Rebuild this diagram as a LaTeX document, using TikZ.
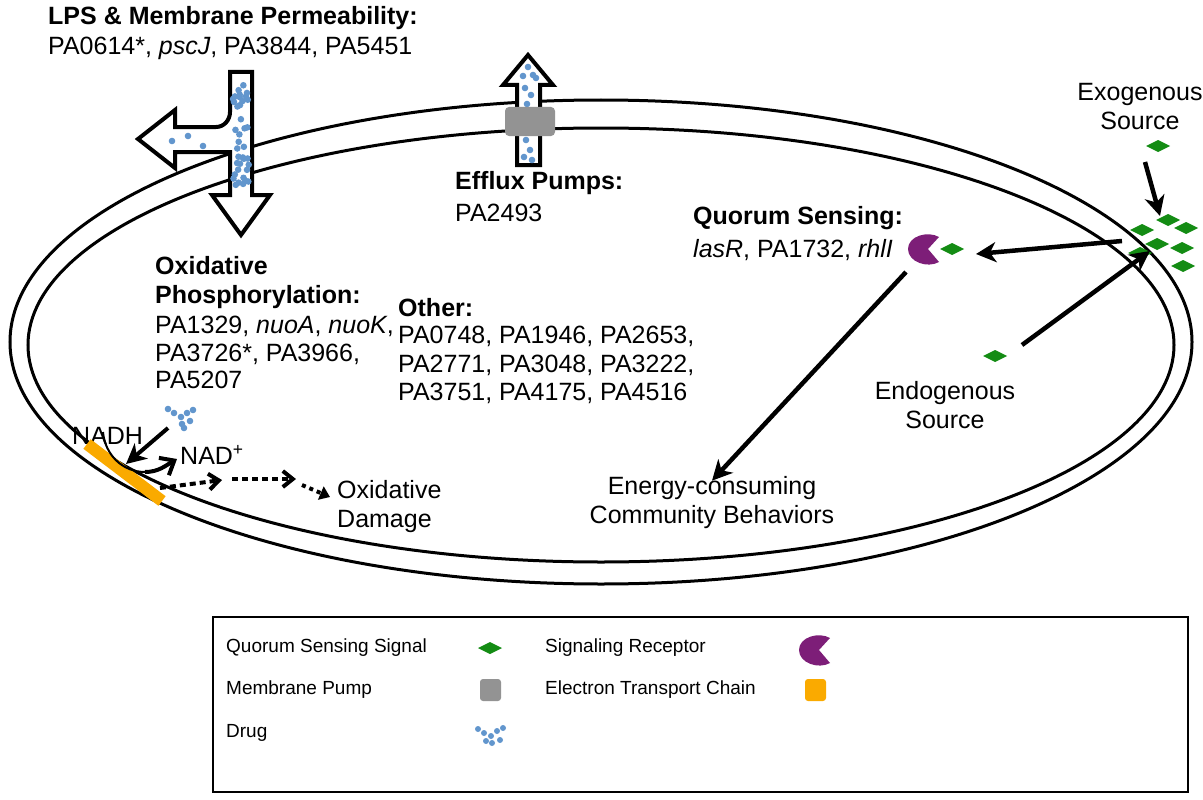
\documentclass[tikz,border=0pt]{standalone}
\usepackage{fontspec}
\setmainfont{Liberation Sans}
\usetikzlibrary{calc,arrows.meta,positioning}
\definecolor{drugblue}{RGB}{98,150,205}
\definecolor{qsgreen}{RGB}{20,140,20}
\definecolor{recpurple}{RGB}{125,30,120}
\definecolor{etcorange}{RGB}{250,170,0}
\tikzset{
  txt/.style={anchor=west,inner sep=0pt,font=\fontsize{25}{29}\selectfont},
  ctxt/.style={align=center,inner sep=0pt,font=\fontsize{25}{29}\selectfont},
  lgd/.style={anchor=west,inner sep=0pt,font=\fontsize{19}{23}\selectfont},
  conn/.style={line width=4.5pt,-{Stealth[length=20pt,width=20pt,inset=6pt]}},
  outarrow/.style={line width=4pt,fill=white,line join=miter},
  signal/.style={fill=qsgreen,draw=none},
}
\newcommand{\qsdiamond}[1]{\fill[signal] ($(#1)+(-12,0)$) -- ($(#1)+(0,-6)$) -- ($(#1)+(12,0)$) -- ($(#1)+(0,6)$) -- cycle;}
\newcommand{\receptor}[1]{\fill[recpurple] ($(#1)+(15,-12)$) to[out=150,in=90] ($(#1)+(-16,0)$) to[out=-90,in=-150] ($(#1)+(15,13)$) -- ($(#1)+(4,0)$) -- cycle;}
\newcommand{\drugdot}[1]{\fill[drugblue] (#1) circle (3.3);}
\begin{document}
\begin{tikzpicture}[x=1pt,y=-1pt]
	\useasboundingbox (0,0) rectangle (1203,800);
	%%%%%% membranes %%%%%%
	\draw[line width=3pt] (601,342) ellipse (591 and 242);
	\draw[line width=3pt] (601,345) ellipse (573 and 217);
	
	%%%%%% LPS arrow %%%%%%
	\draw[outarrow] (230,72) -- (252,72) -- (252,195) -- (270,195) -- (241,235) -- (212,195)
	  -- (230,195) -- (230,152) -- (175,152) -- (175,168) -- (138,139) -- (175,110) -- (175,127)
	  -- (216,127) to[out=0,in=-90] (230,112) -- cycle;
	\pgfmathsetseed{7}
	\foreach \i in {1,...,38}{
	  \pgfmathsetmacro{\dx}{233+16*rnd}
	  \pgfmathsetmacro{\dy}{78+110*rnd}
	  \drugdot{\dx,\dy}
	}
	\foreach \p in {{172,141},{188,136},{203,146}} {\drugdot{\p}}
	
	%%%%%% efflux arrow %%%%%%
	\draw[outarrow] (517,165) -- (517,85) -- (503,85) -- (528,55) -- (553,85) -- (540,85) -- (540,165) -- cycle;
	\foreach \p in {{528,67},{523,76},{533,75},{525,88},{531,95},{527,104},{536,78},{526,140},{530,150},{524,157},{532,160}} {\drugdot{\p}}
	\fill[gray!85,rounded corners=4pt] (505,107) rectangle (555,136);
	
	%%%%%% labels %%%%%%
	\node[txt,font=\bfseries\fontsize{25}{29}\selectfont] (lpsT) at (48,18) {LPS \& Membrane Permeability:};
	\node[txt] (lpsG) at (48,48) {PA0614*, \textit{pscJ}, PA3844, PA5451};
	\node[txt,font=\bfseries\fontsize{25}{29}\selectfont] (effT) at (455,183) {Efflux Pumps:};
	\node[txt] (effG) at (455,213) {PA2493};
	\node[txt,font=\bfseries\fontsize{25}{29}\selectfont] (qsT) at (693,218) {Quorum Sensing:};
	\node[txt] (qsG) at (693,250) {\textit{lasR}, PA1732, \textit{rhlI}};
	\node[txt,font=\bfseries\fontsize{25}{29}\selectfont,align=left,anchor=north west] (oxT) at (155,256) {Oxidative\\Phosphorylation:};
	\node[txt,align=left,anchor=north west,font=\fontsize{25}{27.5}\selectfont] (oxG) at (155,316) {PA1329, \textit{nuoA}, \textit{nuoK},\\PA3726*, PA3966,\\PA5207};
	\node[txt,font=\bfseries\fontsize{25}{29}\selectfont] (othT) at (398,308) {Other:};
	\node[txt,align=left,anchor=north west,font=\fontsize{25}{28.5}\selectfont] (othG) at (398,326) {PA0748, PA1946, PA2653,\\PA2771, PA3048, PA3222,\\PA3751, PA4175, PA4516};
	\node[ctxt] (exo) at (1140,107) {Exogenous\\Source};
	\node[ctxt] (endo) at (945,405) {Endogenous\\Source};
	\node[ctxt] (energy) at (712,503) {Energy-consuming\\Community Behaviors};
	\node[txt,align=left] (dmg) at (337,507) {Oxidative\\Damage};
	\node[txt] (nadh) at (72,436) {NADH};
	\node[txt] (nad) at (180,455) {NAD\textsuperscript{+}};
	
	%%%%%% quorum sensing %%%%%%
	\receptor{924,249}
	\qsdiamond{952,249}
	\qsdiamond{1158,146}
	\foreach \p in {{1142,230},{1168,220},{1186,228},{1157,244},{1182,248},{1140,253},{1183,266}} {\qsdiamond{\p}}
	\qsdiamond{995,356}
	\coordinate (exoS) at (1145,162);
	\coordinate (exoE) at (1160,216);
	\coordinate (clusS) at (1122,241);
	\coordinate (recE) at (976,254);
	\coordinate (endoS) at (1022,345);
	\coordinate (endoE) at (1150,251);
	\coordinate (recS) at (906,272);
	\draw[conn] (exoS) -- (exoE);
	\draw[conn] (clusS) -- (recE);
	\draw[conn] (endoS) -- (endoE);
	\draw[conn] (recS) -- ([yshift=-4pt]energy.north);
	
	%%%%%% electron transport %%%%%%
	\draw[etcorange,line width=12pt] (87,444) -- (162,501);
	\foreach \p in {{168,409},{174,413},{181,417},{187,413},{193,410},{182,424},{190,421},{184,428}} {\drugdot{\p}}
	\coordinate (drugS) at (168,428);
	\coordinate (drugE) at (126,464);
	\draw[conn,line width=4pt] (drugS) -- (drugE);
	\draw[line width=2pt] (103,432) to[out=-85,in=180] (145,472);
	\draw[line width=4pt,-{Straight Barb[length=12pt,width=20pt]}] (145,472) to[out=0,in=-150] (177,459);
	\coordinate (rosA) at (160,488);
	\coordinate (rosB) at (222,480);
	\coordinate (rosC) at (232,479);
	\coordinate (rosD) at (296,479);
	\coordinate (rosE) at (302,485);
	\coordinate (rosF) at (330,497);
	\draw[line width=4pt,dash pattern=on 6pt off 4pt,-{Straight Barb[length=10pt,width=16pt]}] (rosA) -- (rosB);
	\draw[line width=4pt,dash pattern=on 6pt off 4pt,-{Straight Barb[length=10pt,width=16pt]}] (rosC) -- (rosD);
	\draw[line width=4pt,dash pattern=on 4pt off 4pt,-{Triangle[length=10pt,width=14pt]}] (rosE) -- (rosF);
	
	%%%%%% legend %%%%%%
	\draw[line width=1.2pt] (213,617) rectangle (1188,792);
	\node[lgd] (l1) at (226,648) {Quorum Sensing Signal};
	\node[lgd] (l2) at (545,648) {Signaling Receptor};
	\node[lgd] (l3) at (226,690) {Membrane Pump};
	\node[lgd] (l4) at (545,690) {Electron Transport Chain};
	\node[lgd] (l5) at (226,733) {Drug};
	\qsdiamond{490,648}
	\receptor{815,650}
	\fill[gray!85,rounded corners=3pt] (480,679) rectangle (501,701);
	\fill[etcorange,rounded corners=3pt] (805,679) rectangle (826,701);
	\foreach \p in {{478,729},{484,733},{491,736},{497,731},{503,728},{492,743},{500,740},{486,741}} {\fill[drugblue] (\p) circle (3);}
\end{tikzpicture}
\end{document}
